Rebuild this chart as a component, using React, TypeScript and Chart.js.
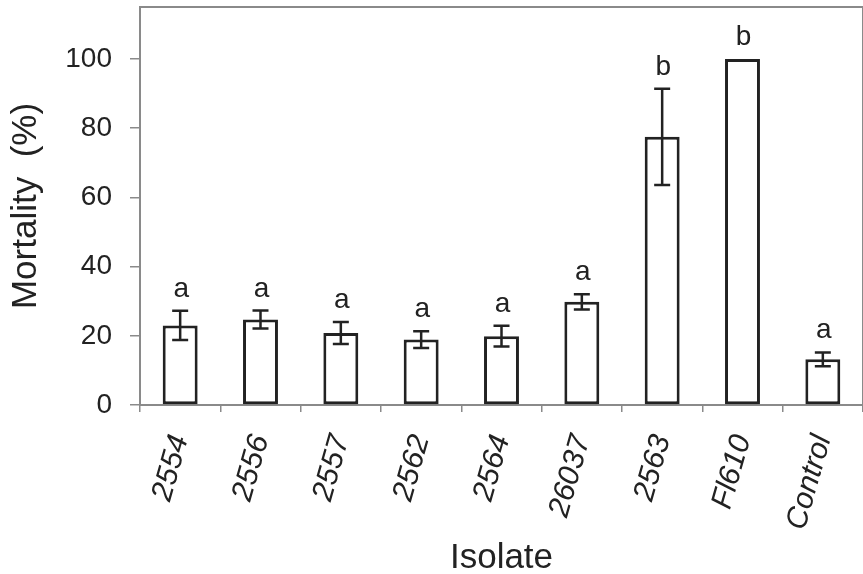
import React, { useEffect, useRef } from "react";
import { Chart, registerables } from "chart.js";

Chart.register(...registerables);

const categories = ["2554", "2556", "2557", "2562", "2564", "26037", "2563", "Fl610", "Control"];
const mortality = [23, 24.7, 20.8, 18.9, 19.9, 29.8, 77.5, 100, 13.2];
const errors = [4.2, 2.6, 3.2, 2.4, 3.0, 2.2, 13.9, 0, 2.0];
const groupLetters = ["a", "a", "a", "a", "a", "a", "b", "b", "a"];
const yTicks = [0, 20, 40, 60, 80, 100];

const FONT = "'Liberation Sans', Arial, Helvetica, sans-serif";
const INK = "#222";
const FRAME = "#8a8a8a";

const errorBarPlugin = {
  id: "errorBars",
  afterDatasetsDraw(chart: any) {
    const ctx = chart.ctx;
    const meta = chart.getDatasetMeta(0);
    const y = chart.scales.y;
    ctx.save();
    ctx.strokeStyle = INK;
    ctx.lineWidth = 2.5;
    meta.data.forEach((bar: any, i: number) => {
      const e = errors[i];
      const x = bar.x;
      if (e > 0) {
        const yTop = y.getPixelForValue(mortality[i] + e);
        const yBot = y.getPixelForValue(mortality[i] - e);
        const cw = 8;
        ctx.beginPath();
        ctx.moveTo(x, yTop);
        ctx.lineTo(x, yBot);
        ctx.moveTo(x - cw, yTop);
        ctx.lineTo(x + cw, yTop);
        ctx.moveTo(x - cw, yBot);
        ctx.lineTo(x + cw, yBot);
        ctx.stroke();
      }
      const top = y.getPixelForValue(mortality[i] + e);
      ctx.fillStyle = INK;
      ctx.font = `28px ${FONT}`;
      ctx.textAlign = "center";
      ctx.textBaseline = "alphabetic";
      ctx.fillText(groupLetters[i], x + 1, top - 14);
    });
    ctx.restore();
  },
};

const framePlugin = {
  id: "frame",
  afterDraw(chart: any) {
    const { ctx, chartArea } = chart;
    ctx.save();
    ctx.strokeStyle = FRAME;
    ctx.lineWidth = 2;
    ctx.beginPath();
    ctx.moveTo(chartArea.left, chartArea.bottom);
    ctx.lineTo(chartArea.left, chartArea.top);
    ctx.lineTo(chartArea.right, chartArea.top);
    ctx.lineTo(chartArea.right, chartArea.bottom);
    ctx.stroke();
    ctx.restore();
  },
};

export default function App() {
  const ref = useRef<HTMLCanvasElement | null>(null);
  useEffect(() => {
    if (!ref.current) return;
    const chart = new Chart(ref.current, {
      type: "bar",
      data: {
        labels: categories,
        datasets: [
          {
            data: mortality,
            backgroundColor: "#ffffff",
            borderColor: INK,
            borderWidth: 3,
            borderSkipped: false,
            categoryPercentage: 1,
            barPercentage: 0.435,
          },
        ],
      },
      options: {
        animation: false,
        responsive: true,
        maintainAspectRatio: false,
        layout: { autoPadding: false, padding: { top: 7, right: -1, left: 0, bottom: 0 } },
        plugins: { legend: { display: false }, tooltip: { enabled: false } },
        scales: {
          x: {
            afterFit(scale: any) {
              scale.height = 169;
              scale.paddingLeft = 0;
              scale.paddingRight = 0;
              scale.paddingTop = 0;
              scale.paddingBottom = 0;
            },
            grid: {
              display: true,
              drawOnChartArea: false,
              offset: true,
              tickLength: 7,
              color: FRAME,
              lineWidth: 1.5,
            },
            border: { display: true, color: FRAME, width: 2 },
            ticks: {
              color: INK,
              font: { family: FONT, size: 30, style: "italic" },
              minRotation: 74,
              maxRotation: 74,
              padding: 19,
              autoSkip: false,
            },
            title: {
              display: true,
              text: "Isolate",
              color: INK,
              font: { family: FONT, size: 35, lineHeight: 0.9 },
              padding: { top: 0, bottom: 0 },
            },
          },
          y: {
            min: 0,
            max: 115,
            afterFit(scale: any) {
              scale.width = 140;
              scale.paddingLeft = 0;
              scale.paddingRight = 0;
              scale.paddingTop = 0;
              scale.paddingBottom = 0;
            },
            afterBuildTicks(scale: any) {
              scale.ticks = yTicks.map((v) => ({ value: v }));
            },
            grid: {
              display: true,
              drawOnChartArea: false,
              tickLength: 10,
              color: FRAME,
              lineWidth: 1.5,
            },
            border: { display: true, color: FRAME, width: 2 },
            ticks: {
              color: INK,
              font: { family: FONT, size: 28 },
              padding: 18,
            },
            title: {
              display: true,
              text: "Mortality  (%)",
              color: INK,
              font: { family: FONT, size: 35, lineHeight: 1.1 },
              padding: { top: 7, bottom: 0 },
            },
          },
        },
      },
      plugins: [errorBarPlugin, framePlugin],
    });
    return () => chart.destroy();
  }, []);
  return (
    <div style={{ position: "absolute", left: 0, top: 0, width: 863, height: 574, background: "#fff" }}>
      <canvas ref={ref} />
    </div>
  );
}
